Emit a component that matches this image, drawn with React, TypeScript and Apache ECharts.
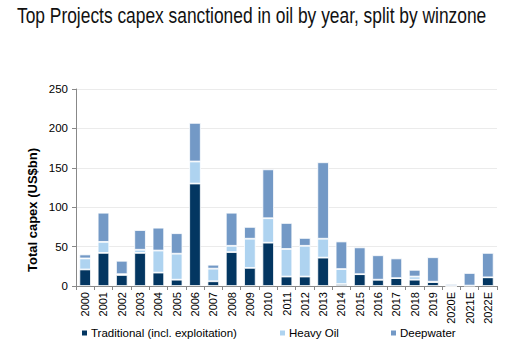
import React, { useEffect, useRef } from "react";
import * as echarts from "echarts";

const categories = ["2000","2001","2002","2003","2004","2005","2006","2007","2008","2009","2010","2011","2012","2013","2014","2015","2016","2017","2018","2019","2020E","2021E","2022E"];
const traditional = [21, 42, 14, 42, 17, 8, 130, 6, 43, 23, 55, 12, 12, 36, 2.5, 15, 8, 10, 8, 5, 0, 0.5, 11];
const heavyOil = [14, 14, 1, 4, 28, 33, 28, 16, 8, 37, 31, 35, 39, 24, 19, 0, 0, 0, 4, 0.5, 0, 0, 0];
const deepwater = [5, 37, 17, 25, 29, 26, 49, 5, 42, 15, 62, 33, 10, 97, 35, 34, 31, 25, 8.5, 31, 2.5, 16, 31];
const yTicks = [0, 50, 100, 150, 200, 250];
const titleText = "Top Projects capex sanctioned in oil by year, split by winzone";
const yAxisTitle = "Total capex (US$bn)";

const FONT = "'Liberation Sans', Arial, sans-serif";
const COLORS = ["#033661", "#aed3f0", "#7399c6"];

export default function App() {
  const ref = useRef<HTMLDivElement>(null);
  useEffect(() => {
    if (!ref.current) return;
    const chart = echarts.init(ref.current, null, { renderer: "svg" });
    const mk = (name: string, data: number[], i: number) => ({
      name,
      type: "bar",
      stack: "total",
      data,
      barCategoryGap: "37%",
      itemStyle: { color: COLORS[i], borderColor: "#ffffff", borderWidth: 0.8 },
    });
    const legendBase = {
      top: 322,
      icon: "rect",
      itemWidth: 7,
      itemHeight: 7,
      itemGap: 0,
      textStyle: { fontFamily: FONT, fontSize: 11.5, color: "#000", padding: [0, 0, 0, -2] },
    };
    chart.setOption({
      animation: false,
      graphic: [
        {
          type: "text",
          left: 17,
          top: 4,
          scaleX: 0.79,
          style: {
            text: titleText,
            fontFamily: FONT,
            fontSize: 22,
            fill: "#111",
          },
        },
        {
          type: "text",
          x: 32,
          y: 210,
          rotation: Math.PI / 2,
          style: {
            text: yAxisTitle,
            fontFamily: FONT,
            fontSize: 13,
            fontWeight: "bold",
            fill: "#000",
            align: "center",
            verticalAlign: "middle",
          },
        },
      ],
      legend: [
        { ...legendBase, left: 75, data: ["Traditional (incl. exploitation)"] },
        { ...legendBase, left: 273, data: ["Heavy Oil"] },
        { ...legendBase, left: 384, data: ["Deepwater"] },
      ],
      grid: { left: 76, right: 10, top: 89, bottom: 65 },
      xAxis: {
        type: "category",
        data: categories,
        axisLine: { lineStyle: { color: "#888", width: 1 } },
        axisTick: { show: true, length: 4, lineStyle: { color: "#888" } },
        axisLabel: { rotate: 90, fontFamily: FONT, fontSize: 11, color: "#000", margin: 6 },
      },
      yAxis: {
        type: "value",
        min: 0,
        max: 250,
        interval: 50,
        axisLine: { show: true, lineStyle: { color: "#888", width: 1 } },
        axisTick: { show: true, length: 4, lineStyle: { color: "#888" } },
        axisLabel: {
          fontFamily: FONT,
          fontSize: 11.5,
          color: "#000",
          margin: 8,
          formatter: (v: number) => (yTicks.includes(v) ? String(v) : ""),
        },
        splitLine: { lineStyle: { color: "#ebebeb", width: 1 } },
      },
      series: [
        mk("Traditional (incl. exploitation)", traditional, 0),
        mk("Heavy Oil", heavyOil, 1),
        mk("Deepwater", deepwater, 2),
      ],
    });
    return () => chart.dispose();
  }, []);
  return <div ref={ref} style={{ width: 507, height: 351, position: "absolute", left: 0, top: 0 }} />;
}
